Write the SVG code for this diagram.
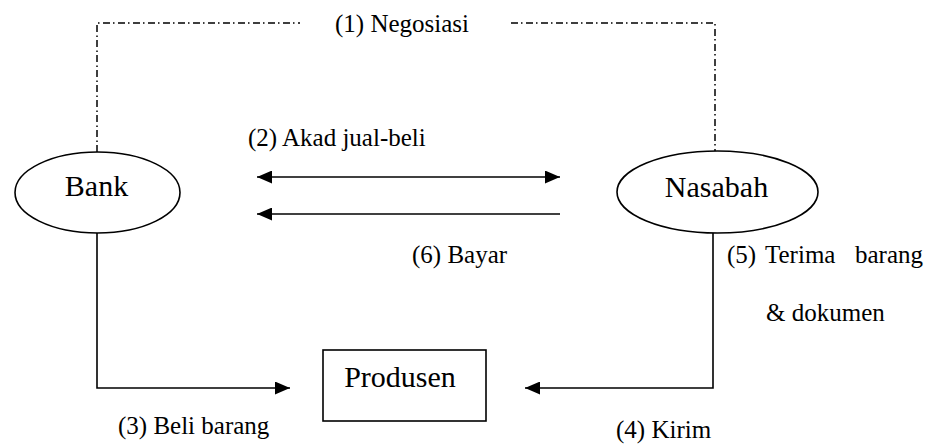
<svg xmlns="http://www.w3.org/2000/svg" width="939" height="445" viewBox="0 0 939 445">
<style>
.shape{fill:#fff;stroke:#000;stroke-width:1.6}
.conn{fill:none;stroke:#000;stroke-width:1.6}
.dd{fill:none;stroke:#000;stroke-width:1.5;stroke-dasharray:7 3 1.5 3.5}
.node{font-family:"Liberation Serif","Times New Roman",serif;font-size:30px;fill:#000;text-anchor:middle}
.lbl{font-family:"Liberation Serif","Times New Roman",serif;font-size:25px;fill:#000}
</style>
<defs>
<marker id="ah" viewBox="0 0 15 13" refX="15" refY="6.5" markerWidth="15" markerHeight="13" markerUnits="userSpaceOnUse" orient="auto-start-reverse">
<path d="M0,0 L15,6.5 L0,13 Z" fill="#000"/>
</marker>
</defs>
<rect width="939" height="445" fill="#fff"/>
<g id="connectors">
<path class="dd" d="M97,152 V23 H300"/>
<path class="dd" d="M511,23 H715 V151"/>
<line class="conn" x1="257" y1="177" x2="560" y2="177" marker-start="url(#ah)" marker-end="url(#ah)"/>
<line class="conn" x1="560" y1="214" x2="257" y2="214" marker-end="url(#ah)"/>
<path class="conn" d="M97,233 V388 H290" marker-end="url(#ah)"/>
<path class="conn" d="M713,233 V388 H525" marker-end="url(#ah)"/>
</g>
<g id="bank">
<ellipse class="shape" cx="97.5" cy="192.5" rx="82.5" ry="40.5"/>
<text class="node" x="96.5" y="196">Bank</text>
</g>
<g id="nasabah">
<ellipse class="shape" cx="717.5" cy="192" rx="100.5" ry="41"/>
<text class="node" x="716.5" y="197">Nasabah</text>
</g>
<g id="produsen">
<rect class="shape" x="323" y="350" width="163" height="71"/>
<text class="node" x="400" y="387">Produsen</text>
</g>
<g id="labels">
<text class="lbl" x="335" y="32">(1) Negosiasi</text>
<text class="lbl" x="248" y="146">(2) Akad jual-beli</text>
<text class="lbl" x="412" y="263">(6) Bayar</text>
<text class="lbl" x="727" y="263">(5)</text>
<text class="lbl" x="765" y="263">Terima</text>
<text class="lbl" x="855" y="263">barang</text>
<text class="lbl" x="766" y="321">&amp; dokumen</text>
<text class="lbl" x="118" y="434">(3) Beli barang</text>
<text class="lbl" x="616" y="438">(4) Kirim</text>
</g>
</svg>
